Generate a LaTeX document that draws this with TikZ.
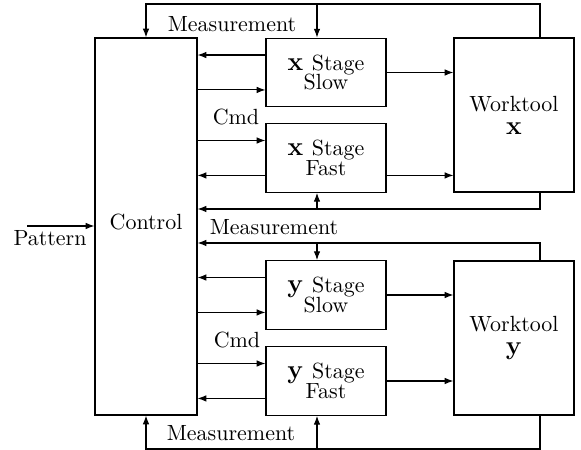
\documentclass[tikz,border=0pt]{standalone}
\usetikzlibrary{arrows.meta, calc}

\begin{document}
\begin{tikzpicture}[>={Latex[length=4pt,width=3pt]}, line width=0.5pt]

\tikzset{
  block/.style={draw, align=center, inner sep=0pt},
  stagebox/.style={block, minimum width=1.92cm, minimum height=1.1cm},
  toolbox/.style={block, minimum width=1.92cm, minimum height=2.464cm},
}

\useasboundingbox (0,0) rectangle (9.296,7.2);

% Control block
\node[draw, inner sep=0pt, minimum width=1.632cm, minimum height=6.032cm, text depth=4.6pt] (ctrl) at (2.336,3.576) {Control};

% Stages
\node[stagebox] (xslow) at (5.216,6.04) {{\large$\mathbf{x}$ }Stage\\[-3pt]Slow};
\node[stagebox] (xfast) at (5.216,4.672) {{\large$\mathbf{x}$ }Stage\\[-3pt]Fast};
\node[stagebox] (yslow) at (5.216,2.48) {{\large$\mathbf{y}$ }Stage\\[-3pt]Slow};
\node[stagebox] (yfast) at (5.216,1.104) {{\large$\mathbf{y}$ }Stage\\[-3pt]Fast};

% Worktools
\node[toolbox] (wtx) at (8.224,5.36) {Worktool\\[-1.5pt]{\large$\mathbf{x}$}};
\node[toolbox] (wty) at (8.224,1.792) {Worktool\\[-1.5pt]{\large$\mathbf{y}$}};

% Control <-> stages
\foreach \s/\i/\o in {xslow/0.25/0.75, xfast/0.75/0.25, yslow/0.25/0.75, yfast/0.75/0.25} {
  \coordinate (in) at ($(\s.north west)!\i!(\s.south west)$);
  \coordinate (out) at ($(\s.north west)!\o!(\s.south west)$);
  \draw[->] (in) -- (in -| ctrl.east);
  \draw[->] (out -| ctrl.east) -- (out);
}

% Stages -> worktools
\coordinate (xf) at ($(xfast.north east)!0.75!(xfast.south east)$);
\draw[->] (xslow.east) -- (xslow.east -| wtx.west);
\draw[->] (xf) -- (xf -| wtx.west);
\draw[->] (yslow.east) -- (yslow.east -| wty.west);
\draw[->] (yfast.east) -- (yfast.east -| wty.west);

% x measurement (top)
\coordinate (mtop) at (8.64,7.136);
\coordinate (tap1) at (5.072,7.136);
\draw[->] (mtop |- wtx.north) -- (mtop) -- (mtop -| ctrl.north) -- (ctrl.north);
\draw[->] (tap1) -- (tap1 |- xslow.north);

% x measurement (middle)
\coordinate (mx) at (8.64,3.856);
\coordinate (tap2) at (5.072,3.856);
\draw[->] (mx |- wtx.south) -- (mx) -- (mx -| ctrl.east);
\draw[->] (tap2) -- (tap2 |- xfast.south);

% y measurement (middle)
\coordinate (my) at (8.64,3.312);
\coordinate (tap3) at (5.072,3.312);
\draw[->] (my |- wty.north) -- (my) -- (my -| ctrl.east);
\draw[->] (tap3) -- (tap3 |- yslow.north);

% y measurement (bottom)
\coordinate (mbot) at (8.64,0.016);
\coordinate (tap4) at (5.072,0.016);
\draw[->] (mbot |- wty.south) -- (mbot) -- (mbot -| ctrl.south) -- (ctrl.south);
\draw[->] (tap4) -- (tap4 |- yfast.south);

% Pattern input
\coordinate (pat) at (0.432,3.584);
\draw[->] (pat) -- (pat -| ctrl.west);

% Labels
\node (meas1) at (3.712,6.816) {Measurement};
\node (meas2) at (4.384,3.568) {Measurement};
\node (meas3) at (3.696,0.272) {Measurement};
\node (cmdx) at (3.776,5.328) {Cmd};
\node (cmdy) at (3.792,1.76) {Cmd};
\node (patlbl) at (0.8,3.392) {Pattern};

\end{tikzpicture}
\end{document}
